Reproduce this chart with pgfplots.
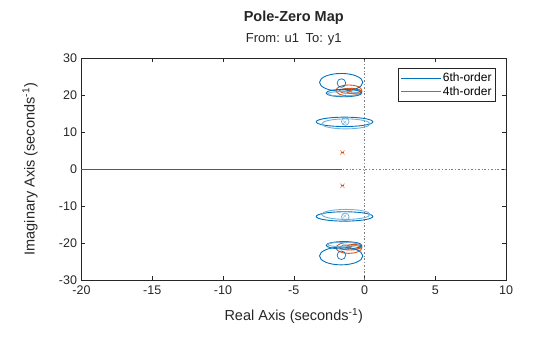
\documentclass[border=0pt]{standalone}
\usepackage{fontspec}
\setmainfont{Liberation Sans}
\usepackage{pgfplots}
\usepackage{pgfplotstable}
\pgfplotsset{compat=1.18}
\definecolor{mblue}{RGB}{0,114,189}
\definecolor{morange}{RGB}{217,83,25}
\definecolor{axgray}{RGB}{38,38,38}
\pgfdeclareplotmark{ell}{%
  \pgfpathellipse{\pgfpointorigin}{\pgfpoint{\ew*14.15bp}{0bp}}{\pgfpoint{0bp}{\eh*3.695bp}}%
  \pgfusepathqstroke}

% confidence ellipses: centre x, centre y, half-width a, half-height b (data units)
\pgfplotstableread{
x y a b
-1.65 23.5 1.53 2.40
-1.65 -23.5 1.53 2.40
-1.45 20.6 1.26 1.00
-1.45 -20.6 1.26 1.00
-1.41 12.8 2.00 1.27
-1.41 -12.8 2.00 1.27
}\blueell
\pgfplotstableread{
x y a b
-1.31 12.25 1.71 1.35
-1.31 -12.25 1.71 1.35
-1.50 20.4 1.10 0.60
-1.50 -20.4 1.10 0.60
}\lightell
\pgfplotstableread{
x y a b
-1.10 21.3 0.91 1.49
-1.10 -21.3 0.91 1.49
-1.03 21.2 0.73 0.68
-1.03 -21.2 0.73 0.68
-0.71 21.0 0.53 0.64
-0.71 -21.0 0.53 0.64
}\orangeell

\begin{document}
\begin{tikzpicture}
\useasboundingbox (-81.5bp,-57bp) rectangle (478.5bp,280bp);
\begin{axis}[
  at={(0,0)}, anchor=south west,
  scale only axis, width=424.5bp, height=221.7bp,
  xmin=-20, xmax=10, ymin=-30, ymax=30,
  xtick={-20,-15,...,10}, ytick={-30,-20,...,30},
  tick align=inside, major tick length=4bp,
  axis line style={axgray, line width=0.5bp},
  every tick/.style={axgray, line width=0.5bp},
  /pgf/number format/assume math mode=true,
  tick label style={font=\fontsize{12.5bp}{14bp}\selectfont, text=axgray},
  xticklabel style={yshift=-2bp},
  yticklabel style={xshift=-1bp},
  xlabel={Real Axis (seconds\textsuperscript{-1})},
  ylabel={Imaginary Axis (seconds\textsuperscript{-1})},
  label style={font=\fontsize{14.5bp}{16bp}\selectfont, text=axgray},
  xlabel style={at={(axis description cs:0.5,-0.1624)}, anchor=center},
  ylabel style={at={(axis description cs:-0.1213,0.5)}, anchor=center},
  legend style={at={(1,1)}, anchor=north east, xshift=-10.7bp, yshift=-10bp,
    draw=axgray, line width=0.5bp, fill=white,
    font=\fontsize{12bp}{13.4bp}\selectfont,
    inner xsep=2bp, inner ysep=3bp, row sep=0.5bp,
    nodes={inner sep=1.5bp}},
  legend cell align=left,
  clip=true,
]
% zero reference lines
\addplot[gray, line width=0.6bp, dash pattern=on 2bp off 2bp on 0.6bp off 2bp, forget plot] coordinates {(-20,0) (10,0)};
\addplot[gray, line width=0.6bp, dash pattern=on 2bp off 2bp on 0.6bp off 2bp, forget plot] coordinates {(0,-30) (0,30)};

\addplot[mblue, line width=0.8bp,
  legend image code/.code={\draw[mblue, line width=0.8bp] (0bp,0bp) -- (40bp,0bp);}]
  coordinates {(-20,0) (-1.6,0)};
\addlegendentry{6th-order}

\addplot[morange, line width=0.9bp, only marks, mark=ell,
  visualization depends on={\thisrow{a}\as\ew},
  visualization depends on={\thisrow{b}\as\eh},
  mark options={solid, line width=0.9bp},
  legend image code/.code={\draw[morange, line width=0.8bp] (0bp,0bp) -- (40bp,0bp);}]
  table[x=x, y=y] {\orangeell};
\addlegendentry{4th-order}

\addplot[mblue, line width=0.9bp, only marks, mark=ell, forget plot,
  visualization depends on={\thisrow{a}\as\ew},
  visualization depends on={\thisrow{b}\as\eh},
  mark options={solid, line width=0.9bp}]
  table[x=x, y=y] {\blueell};
\addplot[mblue!55, line width=0.9bp, only marks, mark=ell, forget plot,
  visualization depends on={\thisrow{a}\as\ew},
  visualization depends on={\thisrow{b}\as\eh},
  mark options={solid, line width=0.9bp}]
  table[x=x, y=y] {\lightell};

% zeros
\addplot[mblue, only marks, mark=o, mark size=4.3bp, mark options={line width=0.7bp}, forget plot]
  coordinates {(-1.63,23.3) (-1.63,-23.3)};
\addplot[mblue!60, only marks, mark=o, mark size=3.8bp, mark options={line width=0.7bp}, forget plot]
  coordinates {(-1.36,12.9) (-1.36,-12.9)};
% poles
\addplot[mblue!45, only marks, mark=x, mark size=2.2bp, mark options={line width=0.5bp}, forget plot]
  coordinates {(-1.45,20.6) (-1.45,-20.6) (-1.40,12.7) (-1.40,-12.7)};
\addplot[morange, only marks, mark=x, mark size=2.5bp, mark options={line width=0.6bp}, forget plot]
  coordinates {(-1.0,21.2) (-1.0,-21.2)};
\addplot[morange!60, only marks, mark=x, mark size=3bp, mark options={line width=0.7bp}, forget plot]
  coordinates {(-1.56,4.5) (-1.56,-4.5)};
\addplot[morange, only marks, mark=-, mark size=1.5bp, mark options={line width=1.2bp}, forget plot]
  coordinates {(-1.56,4.5) (-1.56,-4.5)};
\end{axis}
\node[font=\bfseries\fontsize{14.5bp}{16bp}\selectfont, text=axgray] at (212.25bp,262bp) {Pole-Zero Map};
\node[font=\fontsize{13bp}{15bp}\selectfont, text=axgray] at (212.25bp,241bp) {From: u1\enspace To: y1};
\end{tikzpicture}
\end{document}
